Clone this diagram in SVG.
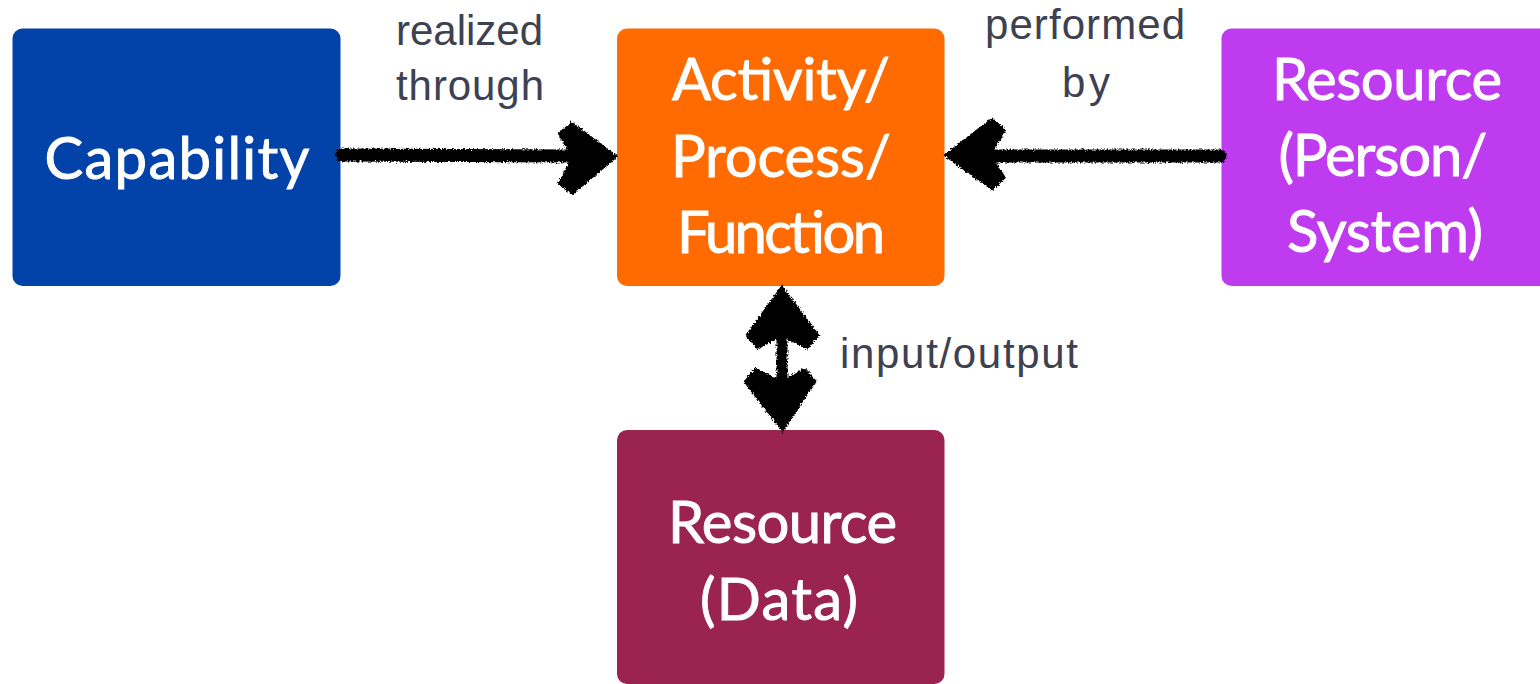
<svg xmlns="http://www.w3.org/2000/svg" width="1540" height="684" viewBox="0 0 1540 684">
<defs>
<style>
.box-text{font-family:Lato,"Noto Sans",sans-serif;font-size:58px;fill:#ffffff;stroke:#ffffff;stroke-width:0.9px;text-anchor:middle}
.lbl{font-family:"Liberation Sans",Arial,sans-serif;font-size:42px;fill:#3d4150}
.stroke{stroke:#000;fill:none;stroke-linecap:round;stroke-linejoin:round}
.head{fill:#000;stroke:#000;stroke-width:19;stroke-linejoin:miter;stroke-miterlimit:2;stroke-linecap:butt}
</style>
<filter id="rough" x="-20%" y="-20%" width="140%" height="140%">
<feTurbulence type="fractalNoise" baseFrequency="0.6" numOctaves="2" seed="3" result="n"/>
<feDisplacementMap in="SourceGraphic" in2="n" scale="5" xChannelSelector="R" yChannelSelector="G"/>
</filter>
</defs>
<rect width="1540" height="684" fill="#ffffff"/>

<g id="capability">
<rect x="12.5" y="28.5" width="328" height="257.5" rx="10" fill="#0342A9"/>
<text class="box-text" x="177" y="179" textLength="265">Capability</text>
</g>

<g id="activity">
<rect x="617" y="28.5" width="327.5" height="257.5" rx="10" fill="#FF6B00"/>
<text class="box-text" x="781" y="100" textLength="218">Activity/</text>
<text class="box-text" x="781" y="176.5" textLength="220">Process/</text>
<text class="box-text" x="781" y="253" textLength="208">Function</text>
</g>

<g id="resource-person">
<rect x="1221.5" y="28.5" width="330" height="257.5" rx="10" fill="#BF3BEF"/>
<text class="box-text" x="1387" y="100" textLength="230">Resource</text>
<text class="box-text" x="1383" y="176" textLength="209">(Person/</text>
<text class="box-text" x="1385" y="252" textLength="196">System)</text>
</g>

<g id="resource-data">
<rect x="617" y="430" width="327.5" height="254" rx="10" fill="#9B234F"/>
<text class="box-text" x="782.5" y="543" textLength="229">Resource</text>
<text class="box-text" x="779" y="620" textLength="158">(Data)</text>
</g>

<g id="connectors" filter="url(#rough)">
<g class="stroke">
<path d="M342 155 L590 156" stroke-width="13"/>
<path d="M1220 156 L970 156" stroke-width="13"/>
<path d="M782 310 L782 410" stroke-width="11"/>
</g>
<path class="head" d="M566 129 L603 157 L566 188 L582 157 Z"/>
<path class="head" d="M998 125 L959 155 L998 183 L980 155 Z"/>
<path class="head" d="M753 341 L782 301 L812 341 L782 326 Z"/>
<path class="head" d="M751 376 L782 416 L809 376 L782 392 Z"/>
</g>

<g id="labels">
<text class="lbl" x="396" y="45" textLength="147">realized</text>
<text class="lbl" x="396" y="100" textLength="148">through</text>
<text class="lbl" x="985" y="39" textLength="200">performed</text>
<text class="lbl" x="1062" y="97" textLength="48">by</text>
<text class="lbl" x="840" y="368" textLength="238">input/output</text>
</g>
</svg>
